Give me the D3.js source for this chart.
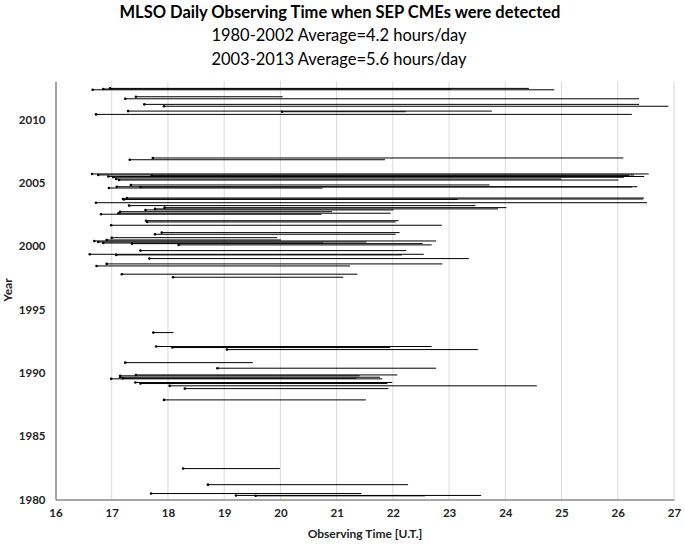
<!DOCTYPE html>
<html><head><meta charset="utf-8">
<script src="https://cdn.jsdelivr.net/npm/d3@7"></script>
<style>
body{margin:0;background:#fff;}
text{font-family:Lato,"Open Sans",sans-serif;}
</style></head>
<body><svg id="c" width="685" height="545"></svg>
<script>
// Each observing day: year (fractional), start and end time (U.T. hours)
const years = [
 2012.44,2012.39,2012.33,2011.78,2011.62,2011.18,2011.03,2010.65,2010.60,2010.39,
 2006.95,2006.81,
 2005.69,2005.61,2005.55,2005.49,2005.43,2005.29,2005.21,
 2004.82,2004.68,2004.66,2004.58,
 2003.79,2003.71,2003.68,2003.42,2003.19,2003.03,2002.93,2002.85,2002.71,2002.59,2002.51,
 2002.00,2001.90,2001.64,
 2001.06,2000.93,2000.66,2000.48,2000.40,2000.32,2000.24,2000.19,2000.09,
 1999.64,1999.35,1999.30,1999.01,1998.59,1998.43,1997.78,1997.54,
 1993.17,1992.07,1991.99,1991.83,1990.80,1990.36,
 1989.83,1989.76,1989.65,1989.57,1989.52,1989.23,1989.15,1988.97,1988.75,1987.86,
 1982.44,1981.17,1980.47,1980.32,1980.29
];
const startTimes = [
 16.97,16.85,16.66,17.43,17.24,17.58,17.93,17.29,20.03,16.72,
 17.73,17.32,
 16.65,16.76,17.71,16.94,17.03,17.08,17.13,
 17.34,17.09,17.51,16.95,
 17.27,17.20,17.22,16.72,17.31,17.94,17.77,17.60,17.15,17.12,16.81,
 17.61,17.63,16.99,
 17.89,17.77,17.00,16.91,16.69,16.76,16.85,17.36,18.19,
 17.51,16.61,17.08,17.67,16.91,16.73,17.18,18.09,
 17.74,17.79,18.08,19.05,17.24,18.88,
 17.43,17.15,17.15,17.20,16.99,17.42,17.51,18.03,18.30,17.93,
 18.27,18.71,17.70,19.21,19.56
];
const endTimes = [
 24.42,23.03,24.87,20.04,26.38,26.38,26.90,23.76,22.23,26.25,
 26.10,21.86,
 26.55,26.29,26.20,26.47,26.11,24.99,26.01,
 23.72,26.35,26.25,20.75,
 26.47,26.45,23.15,26.52,23.47,24.02,23.87,22.01,20.92,21.96,20.73,
 22.10,22.05,22.87,
 22.12,22.05,19.94,20.01,22.77,21.53,20.76,22.53,22.69,
 22.24,22.55,22.16,23.35,22.88,21.24,21.37,21.12,
 18.10,22.69,21.95,23.51,19.51,22.77,
 22.08,21.41,21.77,21.35,21.81,21.99,21.90,24.56,21.92,21.52,
 19.99,22.27,21.44,23.57,22.57
];
const xTickValues = [16,17,18,19,20,21,22,23,24,25,26,27];
const yTickValues = [1980,1985,1990,1995,2000,2005,2010];
const titleLines = ["MLSO Daily Observing Time when SEP CMEs were detected",
 "1980-2002 Average=4.2 hours/day","2003-2013 Average=5.6 hours/day"];

const svg = d3.select("#c");
const x = d3.scaleLinear().domain([16,27]).range([55.5,674]);
const y = d3.scaleLinear().domain([1980,2013]).range([499.5,81.3]);

// gridlines
svg.append("g").selectAll("line").data(xTickValues.slice(1)).join("line")
  .attr("x1",d=>x(d)).attr("x2",d=>x(d)).attr("y1",y(2013)).attr("y2",y(1980))
  .attr("stroke","#d9d9d9").attr("stroke-width",1);

// segments
const data = years.map((yr,i)=>({yr, s:startTimes[i], e:endTimes[i]}));
svg.append("g").selectAll("line").data(data).join("line")
  .attr("x1",d=>x(d.s)).attr("x2",d=>x(d.e)).attr("y1",d=>y(d.yr)).attr("y2",d=>y(d.yr))
  .attr("stroke","#000").attr("stroke-width",1);
svg.append("g").selectAll("circle").data(data).join("circle")
  .attr("cx",d=>x(d.s)).attr("cy",d=>y(d.yr)).attr("r",1.3).attr("fill","#000");

// axes
const xAxis = d3.axisBottom(x).tickValues(xTickValues).tickSize(0).tickPadding(9);
const gx = svg.append("g").attr("transform",`translate(0,${y(1980)})`).call(xAxis);
const yAxis = d3.axisLeft(y).tickValues(yTickValues).tickSize(0).tickPadding(10).tickFormat(d3.format("d"));
const gy = svg.append("g").attr("transform",`translate(${x(16)},0)`).call(yAxis);
[gx,gy].forEach(g=>{
  g.select(".domain").attr("stroke","#888").attr("stroke-width",1.5);
  g.selectAll("text").attr("font-size","11.5px").attr("font-weight","bold").attr("fill","#222");
});

// titles
svg.append("text").attr("x",340).attr("y",18).attr("text-anchor","middle")
  .attr("font-size","16.5px").attr("font-weight","bold").attr("fill","#000").text(titleLines[0]);
svg.append("text").attr("x",339).attr("y",41).attr("text-anchor","middle")
  .attr("font-size","16.5px").attr("fill","#000").text(titleLines[1]);
svg.append("text").attr("x",339).attr("y",65).attr("text-anchor","middle")
  .attr("font-size","16.5px").attr("fill","#000").text(titleLines[2]);
svg.append("text").attr("x",365).attr("y",538).attr("text-anchor","middle")
  .attr("font-size","12px").attr("font-weight","bold").attr("fill","#222").text("Observing Time [U.T.]");
svg.append("text").attr("transform","translate(12,290) rotate(-90)").attr("text-anchor","middle")
  .attr("font-size","12px").attr("font-weight","bold").attr("fill","#222").text("Year");
</script></body></html>
